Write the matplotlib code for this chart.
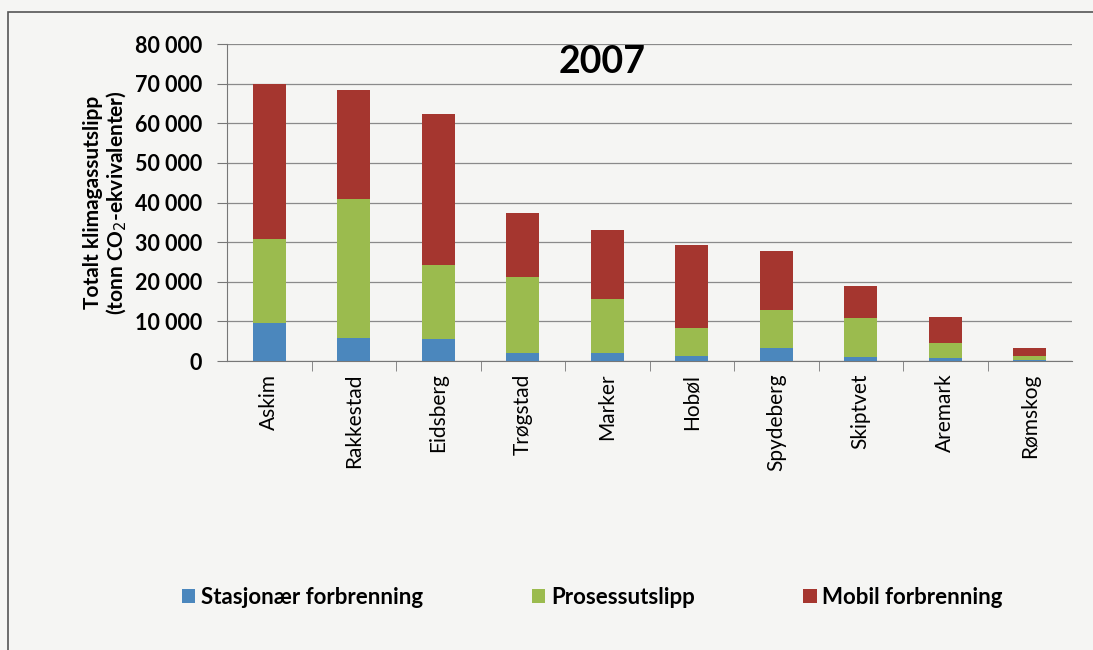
import numpy as np
import matplotlib
matplotlib.use("Agg")
import matplotlib.pyplot as plt
from matplotlib.patches import Rectangle
from matplotlib.ticker import FuncFormatter, FixedLocator

plt.rcParams["font.family"] = ["Lato", "DejaVu Sans"]

kommuner = ["Askim", "Rakkestad", "Eidsberg", "Trøgstad", "Marker",
            "Hobøl", "Spydeberg", "Skiptvet", "Aremark", "Rømskog"]

# tonn CO2-ekvivalenter, lest av figuren
stasjonaer = [9500, 5900, 5500, 2100, 2100, 1350, 3200, 1100, 700, 200]
prosess = [21400, 34900, 18700, 19100, 13600, 7050, 9600, 9800, 3750, 1050]
mobil = [38900, 27600, 38200, 16200, 17300, 20800, 15000, 8000, 6550, 1950]

serier = ["Stasjonær forbrenning", "Prosessutslipp", "Mobil forbrenning"]
farger = ["#4b87bd", "#9bbb4e", "#a5362f"]

bg = "#f5f5f3"
fig = plt.figure(figsize=(10.93, 6.5), dpi=100, facecolor=bg)
ax = fig.add_axes([0.2077, 0.4446, 0.7731, 0.4877], facecolor=bg)

x = np.arange(len(kommuner))
bunn = np.zeros(len(kommuner))
for verdier, navn, farge in zip([stasjonaer, prosess, mobil], serier, farger):
    ax.bar(x, verdier, width=0.39, bottom=bunn, color=farge, label=navn, zorder=3)
    bunn += np.array(verdier)

ax.set_xlim(-0.5, len(kommuner) - 0.5)
ax.set_ylim(0, 80000)
ax.set_yticks(np.arange(0, 80001, 10000))
ax.yaxis.set_major_formatter(FuncFormatter(lambda v, p: f"{int(v):,}".replace(",", " ")))
ax.grid(axis="y", color="#8a8a8a", linewidth=0.9, zorder=0)

ax.set_xticks(x)
ax.set_xticklabels(kommuner, rotation=90, fontsize=15)
ax.xaxis.set_minor_locator(FixedLocator(np.arange(0.5, len(kommuner) - 0.5, 1)))
ax.tick_params(axis="x", which="major", length=0, pad=9)
ax.tick_params(axis="x", which="minor", length=7, color="#777777")
ax.tick_params(axis="y", length=7, color="#777777", labelsize=15.5, pad=11)
for lbl in ax.get_yticklabels():
    lbl.set_fontweight("bold")

for side in ["top", "right"]:
    ax.spines[side].set_visible(False)
for side in ["left", "bottom"]:
    ax.spines[side].set_color("#777777")

ax.set_ylabel("Totalt klimagassutslipp\n(tonn CO$_2$-ekvivalenter)",
              fontsize=15, fontweight="bold", labelpad=4, linespacing=1.1)

ax.text(0.444, 0.943, "2007", transform=ax.transAxes, ha="center", va="center",
        fontsize=27, fontweight="bold")

fig.legend(loc="center", bbox_to_anchor=(0.542, 0.0815), ncol=3, frameon=False,
           prop={"size": 16, "weight": "bold"}, handlelength=0.6, handleheight=0.6,
           handletextpad=0.25, columnspacing=4.9)

fig.patches.append(Rectangle((8 / 1093, -0.01), 1.1, 1 - 12 / 650 + 0.01,
                             transform=fig.transFigure, fill=False,
                             edgecolor="#555555", linewidth=1.2))

fig.savefig("out.png", dpi=100, facecolor=bg)
